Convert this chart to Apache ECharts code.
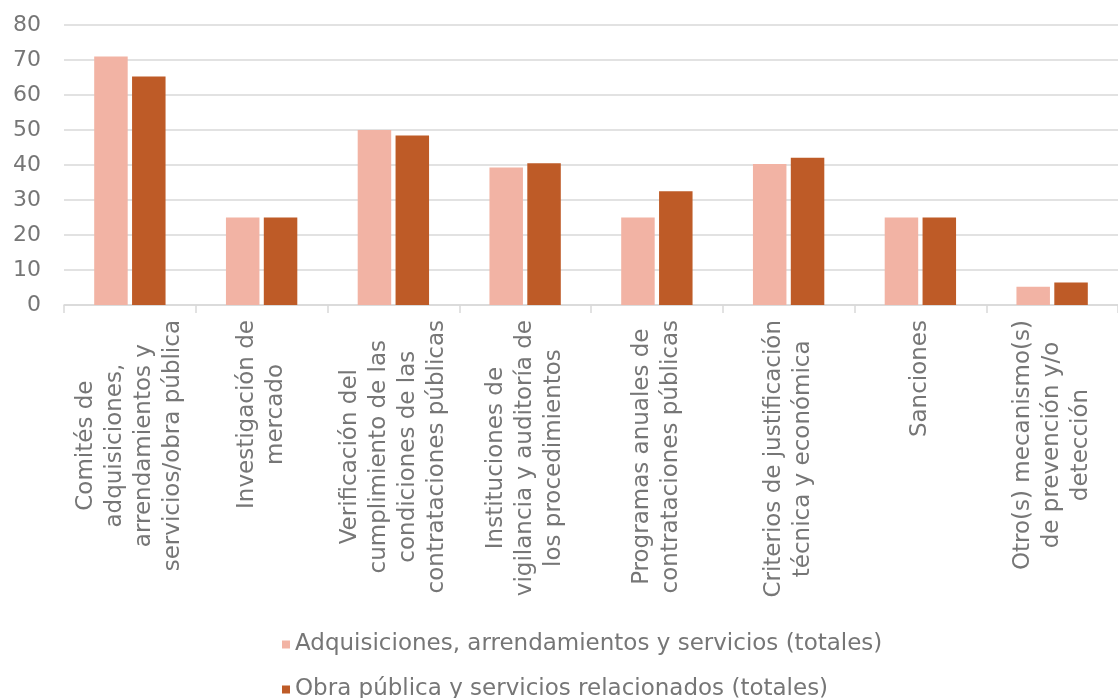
<!DOCTYPE html>
<html>
<head>
<meta charset="utf-8">
<script src="https://cdn.jsdelivr.net/npm/echarts@6/dist/echarts.min.js"></script>
<style>
  html, body { margin: 0; padding: 0; background: #ffffff; }
  #chart { width: 1118px; height: 698px; }
</style>
</head>
<body>
<div id="chart"></div>
<script>
// categorías (saltos de línea como en el original)
var categorias = [
  ['Comités de', 'adquisiciones,', 'arrendamientos y', 'servicios/obra pública'],
  ['Investigación de', 'mercado'],
  ['Verificación del', 'cumplimiento de las', 'condiciones de las', 'contrataciones públicas'],
  ['Instituciones de', 'vigilancia y auditoría de', 'los procedimientos'],
  ['Programas anuales de', 'contrataciones públicas'],
  ['Criterios de justificación', 'técnica y económica'],
  ['Sanciones'],
  ['Otro(s) mecanismo(s)', 'de prevención y/o', 'detección']
];
var nombresSeries = [
  'Adquisiciones, arrendamientos y servicios (totales)',
  'Obra pública y servicios relacionados (totales)'
];
var adquisiciones = [71, 25, 50, 39.3, 25, 40.3, 25, 5.2];
var obraPublica = [65.3, 25, 48.4, 40.5, 32.5, 42.1, 25, 6.4];
var colores = ['#F2B3A4', '#BE5B27'];

var fuente = 'DejaVu Sans';
var gris = '#767676';

var myCharts = echarts.init(document.getElementById('chart'));

// una leyenda por serie, una debajo de la otra
var leyenda = function (nombre, top) {
  return {
    left: 277,
    top: top,
    itemWidth: 8,
    itemHeight: 8,
    icon: 'rect',
    data: [nombre],
    textStyle: {
      fontFamily: fuente,
      fontSize: 23,
      color: gris
    }
  };
};

var option = {
  backgroundColor: '#ffffff',
  color: colores,
  textStyle: { fontFamily: fuente },
  legend: [
    leyenda(nombresSeries[0], 628),
    leyenda(nombresSeries[1], 673)
  ],
  grid: {
    left: 64,
    right: -10,
    top: 25,
    bottom: 393
  },
  xAxis: {
    type: 'category',
    data: categorias.map(function (c) { return c.join('\n'); }),
    axisLine: { lineStyle: { color: '#d9d9d9', width: 1.5 } },
    axisTick: { show: true, length: 8, lineStyle: { color: '#d9d9d9', width: 1.5 } },
    axisLabel: {
      rotate: 90,
      interval: 0,
      margin: 15,
      formatter: function (value) {
        return value.split('\n').map(function (l) { return '{c|' + l + '}'; }).join('\n');
      },
      rich: {
        c: {
          align: 'center',
          fontFamily: fuente,
          fontSize: 23,
          lineHeight: 29,
          color: gris
        }
      }
    }
  },
  yAxis: {
    type: 'value',
    min: 0,
    max: 80,
    interval: 10,
    axisLine: { show: false },
    axisTick: { show: false },
    splitLine: { lineStyle: { color: '#d9d9d9', width: 1.5 } },
    axisLabel: {
      margin: 23,
      fontFamily: fuente,
      fontSize: 22,
      color: gris
    }
  },
  series: [
    {
      name: nombresSeries[0],
      type: 'bar',
      barWidth: 33.5,
      barGap: '13%',
      data: adquisiciones
    },
    {
      name: nombresSeries[1],
      type: 'bar',
      barWidth: 33.5,
      data: obraPublica
    }
  ]
};

myCharts.setOption(option);
</script>
</body>
</html>
